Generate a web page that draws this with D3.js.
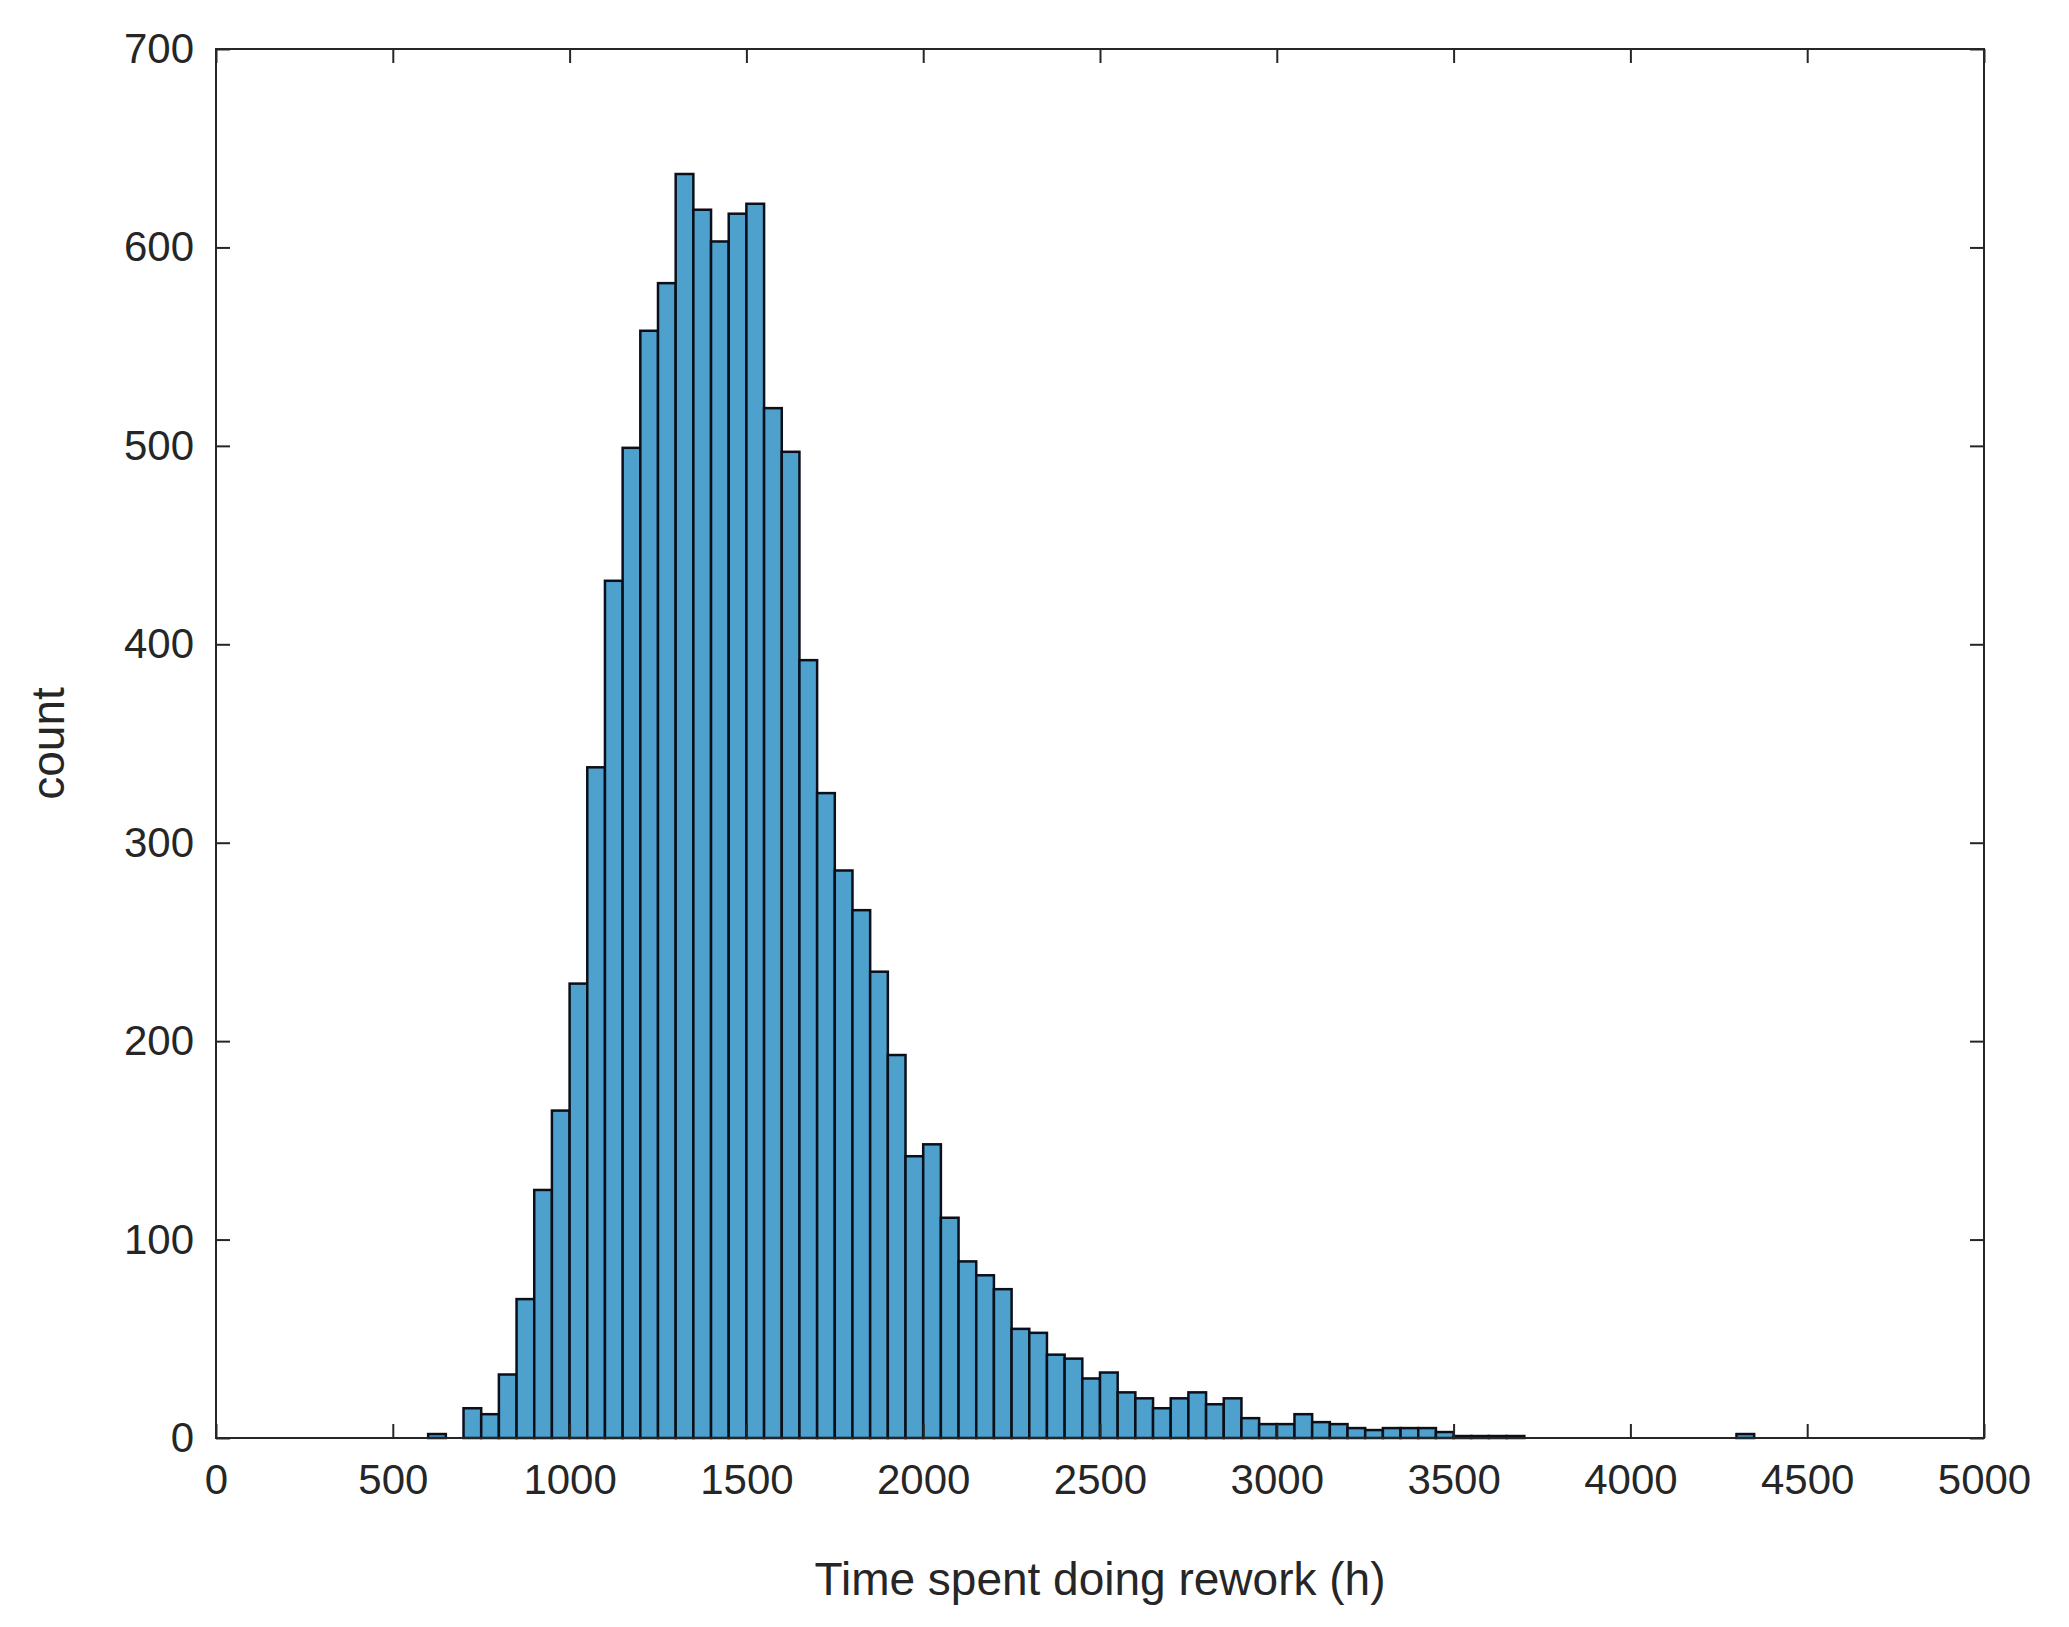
<!DOCTYPE html>
<html><head><meta charset="utf-8">
<script src="https://cdn.jsdelivr.net/npm/d3@7"></script>
<style>body{margin:0;background:#fff}</style></head>
<body><svg id="c" width="2069" height="1627"></svg>
<script>
const binStart = [600,650,700,750,800,850,900,950,1000,1050,1100,1150,1200,1250,1300,1350,1400,1450,1500,1550,1600,1650,1700,1750,1800,1850,1900,1950,2000,2050,2100,2150,2200,2250,2300,2350,2400,2450,2500,2550,2600,2650,2700,2750,2800,2850,2900,2950,3000,3050,3100,3150,3200,3250,3300,3350,3400,3450,3500,3550,3600,3650,4300];
const counts = [2,0,15,12,32,70,125,165,229,338,432,499,558,582,637,619,603,617,622,519,497,392,325,286,266,235,193,142,148,111,89,82,75,55,53,42,40,30,33,23,20,15,20,23,17,20,10,7,7,12,8,7,5,4,5,5,5,3,1,1,1,1,2];
const binWidth = 50;
const xTicks = [0,500,1000,1500,2000,2500,3000,3500,4000,4500,5000];
const yTicks = [0,100,200,300,400,500,600,700];

const L=216,R=1984,T=49,B=1438;
const svg=d3.select("#c");
const x=d3.scaleLinear().domain([0,5000]).range([L,R]);
const y=d3.scaleLinear().domain([0,700]).range([B,T]);
const font="Liberation Sans, Arial, sans-serif", tc="#262626";

svg.append("g").selectAll("rect").data(binStart.map((s,i)=>({s,c:counts[i]})).filter(d=>d.c>0))
 .join("rect").attr("x",d=>x(d.s)).attr("width",d=>x(d.s+binWidth)-x(d.s))
 .attr("y",d=>y(d.c)).attr("height",d=>y(0)-y(d.c))
 .attr("fill","#4fa1cd").attr("stroke","#0a0f1a").attr("stroke-width",2.5);

const tl=14;
const gx=svg.append("g").attr("transform",`translate(0,${B})`).call(d3.axisBottom(x).tickValues(xTicks).tickSize(-tl).tickPadding(22).tickFormat(d3.format("d")));
const gxt=svg.append("g").attr("transform",`translate(0,${T})`).call(d3.axisTop(x).tickValues(xTicks).tickSize(-tl).tickFormat(""));
const gy=svg.append("g").attr("transform",`translate(${L},0)`).call(d3.axisLeft(y).tickValues(yTicks).tickSize(-tl).tickPadding(22));
const gyr=svg.append("g").attr("transform",`translate(${R},0)`).call(d3.axisRight(y).tickValues(yTicks).tickSize(-tl).tickFormat(""));
[gx,gxt,gy,gyr].forEach(g=>{g.select(".domain").remove();g.selectAll("line").attr("stroke",tc).attr("stroke-width",2);
 g.selectAll("text").attr("font-family",font).attr("font-size",42).attr("fill",tc);});
gx.selectAll("text").attr("dy","0.8em");
svg.append("rect").attr("x",L).attr("y",T).attr("width",R-L).attr("height",B-T).attr("fill","none").attr("stroke",tc).attr("stroke-width",2);

svg.append("text").attr("x",(L+R)/2).attr("y",1595).attr("text-anchor","middle").attr("font-family",font).attr("font-size",46).attr("fill",tc).text("Time spent doing rework (h)");
svg.append("text").attr("transform",`translate(64,${(T+B)/2}) rotate(-90)`).attr("text-anchor","middle").attr("font-family",font).attr("font-size",46).attr("fill",tc).text("count");
</script></body></html>
